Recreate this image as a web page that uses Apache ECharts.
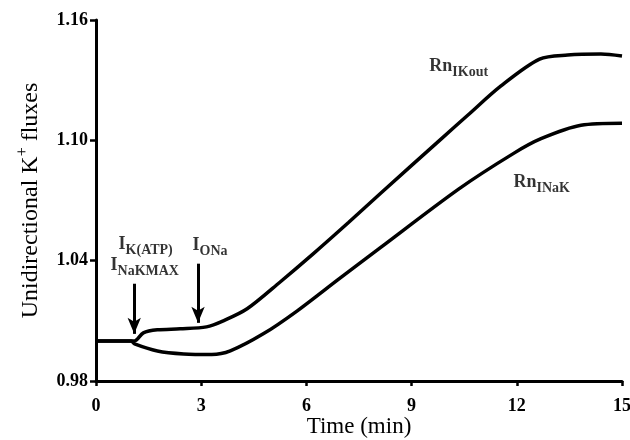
<!DOCTYPE html>
<html>
<head>
<meta charset="utf-8">
<script src="https://cdn.jsdelivr.net/npm/echarts@6/dist/echarts.min.js"></script>
<style>
  html, body { margin: 0; padding: 0; background: #fff; }
  #chart { width: 630px; height: 440px; }
</style>
</head>
<body>
<div id="chart"></div>
<script>
// time (min) and flux values
const timeOut = [0, 1.0, 1.1, 1.35, 1.75, 2.4, 3.15, 3.63, 4.31, 5.26, 6.2, 7.2, 8.11, 9.83, 10.6, 11.54, 12.65, 13.45, 14.4, 15];
const fluxOut = [1.0, 1.0, 1.0, 1.004, 1.0055, 1.006, 1.007, 1.010, 1.016, 1.0295, 1.0435, 1.059, 1.0735, 1.1005, 1.1125, 1.127, 1.1405, 1.1425, 1.143, 1.142];
const timeNaK = [0, 1.0, 1.1, 1.75, 2.5, 3.3, 3.83, 4.77, 5.74, 6.92, 8.11, 10.35, 11.91, 12.69, 13.83, 15];
const fluxNaK = [1.0, 1.0, 0.9985, 0.995, 0.9935, 0.9932, 0.995, 1.0035, 1.015, 1.0308, 1.0465, 1.0758, 1.0935, 1.1008, 1.1075, 1.1085];
const xTicks = [0, 3, 6, 9, 12, 15];
const yTicks = [0.98, 1.04, 1.10, 1.16];

const font = 'Liberation Serif';
const chart = echarts.init(document.getElementById('chart'));

function pairs(xs, ys) {
  return xs.map((x, i) => [x, ys[i]]);
}

// label with a subscript, e.g. Rn_IKout
function subLabel(main, sub) {
  return '{m|' + main + '}{s|' + sub + '}';
}
const richSub = {
  m: { fontFamily: font, fontSize: 18, fontWeight: 'bold', color: '#000' },
  s: { fontFamily: font, fontSize: 14, fontWeight: 'bold', color: '#000', padding: [12, 0, 0, 0] }
};

// annotation texts placed in data coordinates
const notes = [
  { value: [9.49, 1.137], text: subLabel('Rn', 'IKout') },
  { value: [11.89, 1.079], text: subLabel('Rn', 'INaK') },
  { value: [0.63, 1.048], text: subLabel('I', 'K(ATP)') },
  { value: [0.40, 1.0375], text: subLabel('I', 'NaKMAX') },
  { value: [2.74, 1.0475], text: subLabel('I', 'ONa') }
];

const option = {
  backgroundColor: '#fff',
  animation: false,
  grid: { left: 96, right: 8, top: 20, bottom: 59, containLabel: false, outerBoundsMode: 'none' },
  xAxis: {
    type: 'value',
    min: 0, max: 15, interval: 3,
    name: 'Time (min)',
    nameLocation: 'middle',
    nameGap: 34,
    nameMoveOverlap: false,
    nameTextStyle: { fontFamily: font, fontSize: 23, color: '#000' },
    axisLine: { lineStyle: { color: '#000', width: 3 } },
    axisTick: { show: true, length: 5, lineStyle: { color: '#000', width: 2.5 } },
    axisLabel: {
      margin: 16, fontFamily: font, fontSize: 18, fontWeight: 'bold', color: '#000',
      formatter: v => (xTicks.includes(v) ? String(v) : '')
    },
    splitLine: { show: false }
  },
  yAxis: {
    type: 'value',
    min: 0.98, max: 1.16, interval: 0.06,
    name: 'Unidirectional K{sup|+} fluxes',
    nameLocation: 'middle',
    nameGap: 50,
    nameMoveOverlap: false,
    nameRotate: 90,
    nameTextStyle: {
      fontFamily: font, fontSize: 24, color: '#000',
      rich: { sup: { fontFamily: font, fontSize: 16, color: '#000', padding: [0, 0, 15, 0] } }
    },
    axisLine: { show: true, lineStyle: { color: '#000', width: 3 } },
    axisTick: { show: true, length: 6, lineStyle: { color: '#000', width: 2.5 } },
    axisLabel: {
      margin: 8, fontFamily: font, fontSize: 18, fontWeight: 'bold', color: '#000',
      formatter: v => {
        const t = yTicks.find(y => Math.abs(y - v) < 1e-6);
        return t !== undefined ? t.toFixed(2) : '';
      }
    },
    splitLine: { show: false }
  },
  series: [
    {
      name: 'RnIKout',
      type: 'line',
      data: pairs(timeOut, fluxOut),
      smooth: 0.3,
      showSymbol: false,
      lineStyle: { color: '#000', width: 3.5 },
      markLine: {
        silent: true,
        symbol: ['none', 'arrow'],
        symbolSize: [10, 16],
        lineStyle: { color: '#000', width: 3, type: 'solid' },
        label: { show: false },
        data: [
          [{ coord: [1.09, 1.0285] }, { coord: [1.09, 1.0035] }],
          [{ coord: [2.91, 1.0385] }, { coord: [2.91, 1.009] }]
        ]
      }
    },
    {
      name: 'RnINaK',
      type: 'line',
      data: pairs(timeNaK, fluxNaK),
      smooth: 0.3,
      showSymbol: false,
      lineStyle: { color: '#000', width: 3.5 }
    },
    {
      name: 'notes',
      type: 'scatter',
      symbolSize: 1,
      itemStyle: { color: 'rgba(0,0,0,0)' },
      silent: true,
      data: notes.map(n => ({
        value: n.value,
        label: {
          show: true,
          position: 'right',
          distance: 0,
          formatter: n.text,
          rich: richSub
        }
      }))
    }
  ]
};

chart.setOption(option);
</script>
</body>
</html>
